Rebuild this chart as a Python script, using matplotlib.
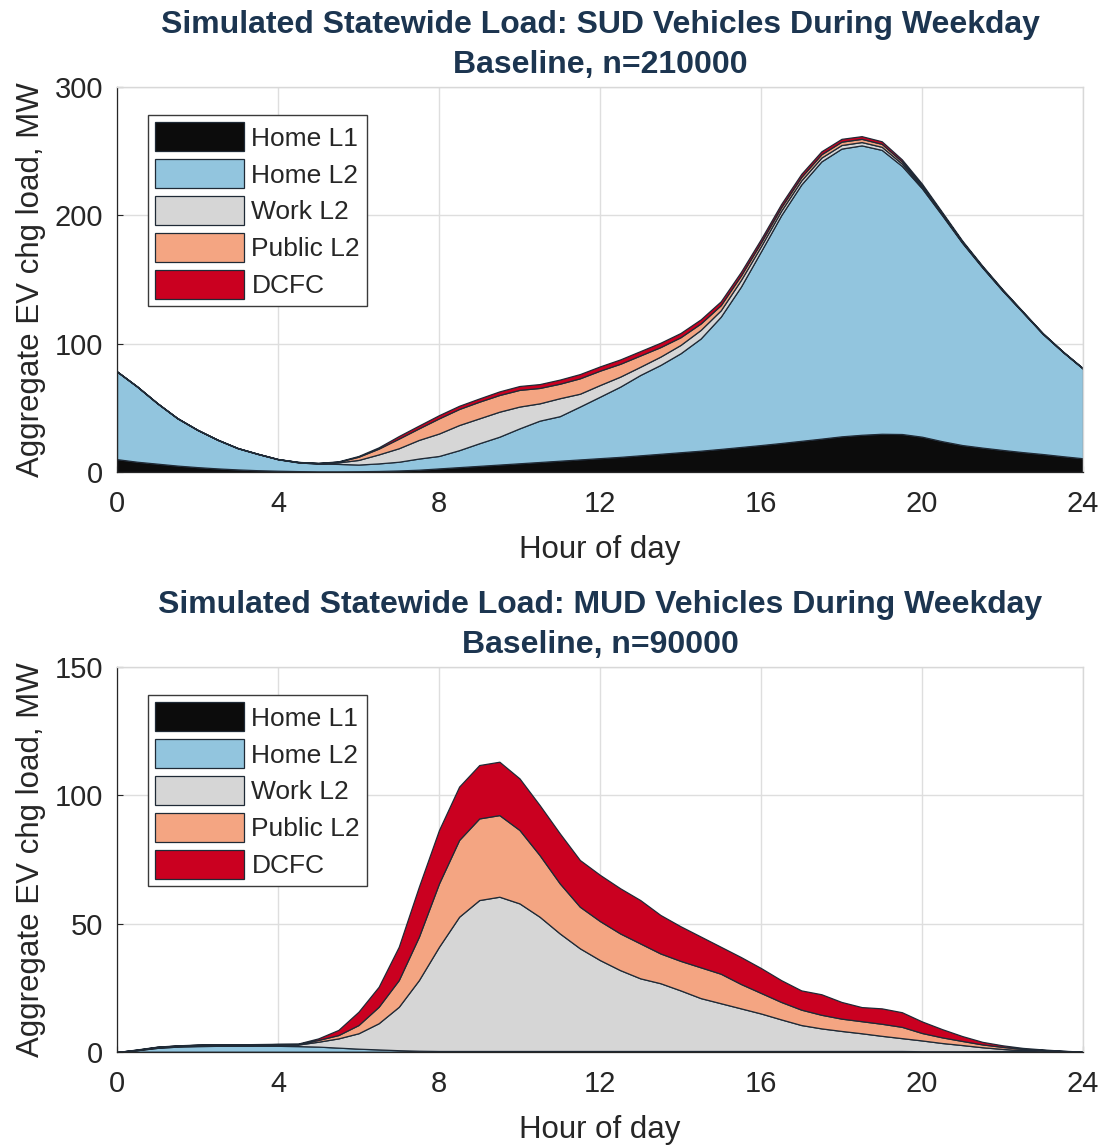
import numpy as np
import matplotlib
matplotlib.use("Agg")
import matplotlib.pyplot as plt

plt.rcParams['font.family'] = ['Liberation Sans', 'DejaVu Sans']

# ---------------- data ----------------
hours = [i * 0.5 for i in range(49)]
labels = ["Home L1", "Home L2", "Work L2", "Public L2", "DCFC"]
colors = ["#0c0c0c", "#92c5de", "#d6d6d6", "#f4a582", "#ca0020"]
xticks = [0, 4, 8, 12, 16, 20, 24]

# SUD vehicles (MW)
sud_home_l1 = [10, 8, 6.5, 5, 3.8, 2.8, 2, 1.4, 1, 0.7, 0.5, 0.5, 0.6, 0.8, 1.2, 1.8,
               2.8, 3.8, 4.8, 5.8, 6.8, 7.8, 8.8, 9.8, 10.8, 11.8, 13, 14.2, 15.4, 16.6,
               18, 19.5, 21, 22.6, 24.3, 26, 27.8, 29, 29.8, 29.6, 27.5, 24, 21, 19,
               17.2, 15.5, 14, 12.3, 10.7]
sud_home_l2 = [68.2, 58.5, 47, 36.8, 28.9, 22.2, 16.5, 12.6, 8.9, 6.8, 6, 5.8, 5.2, 5.9,
               6.8, 8.7, 9.7, 13.2, 17.6, 21.7, 27.2, 32.2, 34.7, 41.2, 47.9, 54.7, 62.6,
               69.2, 77.1, 87.4, 103, 124.9, 151, 177.4, 199.7, 216, 224.2, 225.5, 221.2,
               208.9, 193.5, 176, 157.5, 140.3, 124.1, 109, 93.6, 81.2, 69.8]
sud_work_l2 = [0.1, 0.1, 0.1, 0.1, 0.1, 0.1, 0.1, 0.1, 0.1, 0.2, 0.3, 1.2, 3.6, 7, 10.5,
               14.5, 17.5, 19.6, 19.4, 19.5, 17, 13.5, 14, 10, 9.1, 7.8, 6.4, 6.5, 6.5,
               6.7, 5, 5.2, 4, 3.5, 3.2, 3, 2.8, 2.6, 2.4, 1.8, 1.2, 0.8, 0.5, 0.4, 0.3,
               0.2, 0.2, 0.1, 0.1]
sud_public_l2 = [0.05, 0.05, 0.05, 0.05, 0.05, 0.05, 0.05, 0.05, 0.05, 0.1, 0.2, 0.5, 2.5,
                 4.5, 7.5, 9, 11.8, 12.5, 13, 13, 13, 12, 11.3, 12, 11.2, 10, 8.8, 7.4, 6,
                 5, 4, 3.5, 3, 2.8, 2.7, 2.6, 2.6, 2.5, 2.3, 1.7, 1.1, 0.7, 0.5, 0.4, 0.3,
                 0.2, 0.2, 0.1, 0.1]
sud_dcfc = [0.1, 0.1, 0.1, 0.1, 0.1, 0.1, 0.1, 0.1, 0.1, 0.1, 0.1, 0.3, 0.6, 1, 2, 2.2,
            2.5, 2.5, 2.5, 2.8, 3, 3, 3.2, 3.3, 3.3, 3.4, 3.4, 3.4, 3.3, 3.2, 3, 2.8, 2.6,
            2.5, 2.4, 2.3, 2.2, 2.1, 2, 1.6, 1.3, 1, 0.8, 0.6, 0.5, 0.4, 0.3, 0.3, 0.2]

# MUD vehicles (MW)
mud_home_l1 = [0] + [0.1] * 48
mud_home_l2 = [0, 0.6, 1.5, 2, 2.2, 2.3, 2.3, 2.3, 2.3, 2.2, 2, 1.6, 1.2, 0.9, 0.6, 0.4,
               0.3, 0.3, 0.3, 0.3, 0.3, 0.3, 0.3, 0.3, 0.3, 0.3, 0.3, 0.3, 0.3, 0.3, 0.3,
               0.3, 0.3, 0.3, 0.3, 0.3, 0.3, 0.3, 0.3, 0.3, 0.2, 0.2, 0.2, 0.25, 0.3, 0.3,
               0.3, 0.2, 0.05]
mud_work_l2 = [0, 0.1, 0.2, 0.2, 0.3, 0.3, 0.3, 0.4, 0.5, 0.6, 1.9, 3.6, 6, 10.2, 16.9,
               27.5, 40.6, 52.3, 58.8, 60.1, 57.5, 52.3, 45.8, 40, 35.4, 31.5, 28.3, 26.4,
               23.6, 20.6, 18.6, 16.6, 14.6, 12.3, 10.1, 8.8, 7.8, 6.9, 5.9, 5, 4.2, 3.2,
               2.4, 1.5, 0.8, 0.3, 0.1, 0, 0]
mud_public_l2 = [0, 0.1, 0.2, 0.2, 0.2, 0.2, 0.2, 0.2, 0.2, 0.2, 0.7, 1.3, 3.2, 6.4, 10.4,
                 16.9, 24.7, 29.9, 31.8, 31.8, 28.6, 24, 19.5, 16.2, 15.2, 14.3, 13.6,
                 11.6, 11.5, 12, 11.5, 9.5, 8, 6.8, 6, 5.3, 4.8, 4.7, 4.7, 4.4, 2.9, 2.2,
                 1.6, 1.1, 0.8, 0.5, 0.3, 0.1, 0]
mud_dcfc = [0, 0.1, 0.1, 0.1, 0.1, 0.1, 0.1, 0.1, 0.1, 0.2, 0.6, 2, 5.2, 7.8, 13, 19.5,
            20.8, 20.8, 20.8, 20.8, 20.1, 19.5, 19.5, 18.2, 18, 17.6, 16.9, 15, 13.5, 12,
            10.5, 10.5, 9.7, 8.5, 7.5, 8, 6.5, 5.5, 6, 5.7, 4.5, 3.2, 1.9, 1, 0.6, 0.4,
            0.2, 0.1, 0]

panels = [
    dict(title="Simulated Statewide Load: SUD Vehicles During Weekday\nBaseline, n=210000",
         series=[sud_home_l1, sud_home_l2, sud_work_l2, sud_public_l2, sud_dcfc],
         ylim=300, yticks=[0, 100, 200, 300], bottom=1 - 472 / 1145),
    dict(title="Simulated Statewide Load: MUD Vehicles During Weekday\nBaseline, n=90000",
         series=[mud_home_l1, mud_home_l2, mud_work_l2, mud_public_l2, mud_dcfc],
         ylim=150, yticks=[0, 50, 100, 150], bottom=1 - 1052 / 1145),
]

fig = plt.figure(figsize=(11.05, 11.45), dpi=100)
txt = "#262626"
for p in panels:
    ax = fig.add_axes([117 / 1105, p["bottom"], 966 / 1105, 385 / 1145])
    ax.stackplot(hours, *p["series"], colors=colors, labels=labels,
                 edgecolor="#1f2a36", linewidth=0.9)
    ax.set_xlim(0, 24)
    ax.set_ylim(0, p["ylim"])
    ax.set_xticks(xticks)
    ax.set_yticks(p["yticks"])
    ax.set_axisbelow(True)
    ax.grid(True, color="#dedede", linewidth=1.0)
    ax.tick_params(direction="in", length=4, width=0.8, colors=txt,
                   labelsize=21, top=False, right=False)
    ax.tick_params(axis="x", pad=13)
    ax.tick_params(axis="y", pad=10)
    for s in ["left", "bottom"]:
        ax.spines[s].set_color(txt)
        ax.spines[s].set_linewidth(0.9)
    for s in ["top", "right"]:
        ax.spines[s].set_color("#d8d8d8")
        ax.spines[s].set_linewidth(1.0)
    ax.set_xlabel("Hour of day", fontsize=22.5, color=txt, labelpad=12)
    ax.set_ylabel("Aggregate EV chg load, MW", fontsize=22.5, color=txt, labelpad=6)
    ax.set_title(p["title"], fontsize=23, fontweight="bold", color="#1c3550",
                 linespacing=1.42, pad=10)
    leg = ax.legend(loc="upper left", bbox_to_anchor=(31 / 966, 1 - 28 / 385),
                    borderaxespad=0, fontsize=19, handlelength=3.37,
                    handleheight=1.31, labelspacing=0.3, handletextpad=0.27,
                    borderpad=0.28, fancybox=False, framealpha=1,
                    edgecolor="#3a3a3a")
    leg.get_frame().set_linewidth(1.0)
    for t in leg.get_texts():
        t.set_color(txt)

fig.savefig("out.png", dpi=100)
